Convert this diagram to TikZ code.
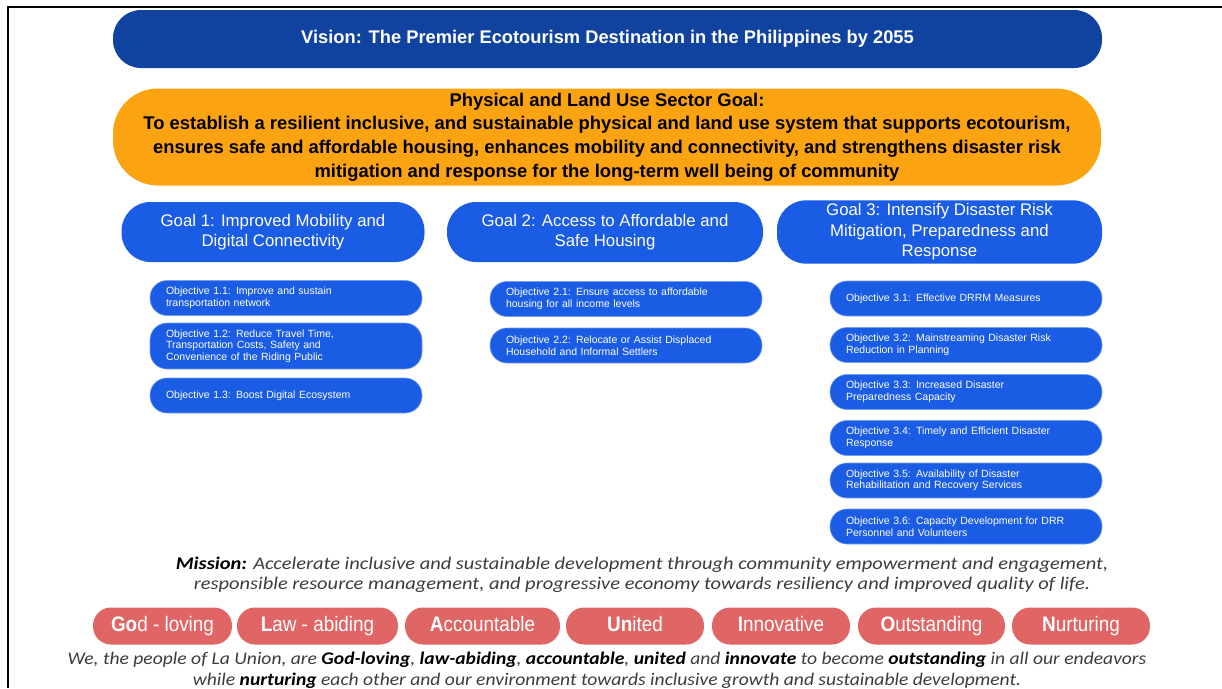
\documentclass[tikz,border=0pt]{standalone}
\usepackage{fontspec}
\setmainfont{Liberation Sans}
\newfontfamily\narrowfont{Liberation Sans}[FakeStretch=0.9]
\newfontfamily\missionfont{Carlito}[FakeStretch=1.15]
\newfontfamily\peoplefont{Carlito}[FakeStretch=1.1]
\usepackage{xcolor}
\definecolor{visionblue}{RGB}{16,66,160}
\definecolor{sectororange}{RGB}{252,163,17}
\definecolor{goalblue}{RGB}{26,92,228}
\definecolor{valuered}{RGB}{224,102,102}
\definecolor{missiongray}{RGB}{60,60,60}

\begin{document}
\begin{tikzpicture}[x=1pt,y=-1pt,
    visionbox/.style={fill=visionblue, text=white, rounded corners=28pt, minimum width=989pt, minimum height=58pt,
        font=\bfseries\fontsize{18.3}{22}\selectfont},
    sectorbox/.style={fill=sectororange, text=black, rounded corners=45pt, minimum width=988pt, minimum height=97pt,
        align=center, font=\bfseries\fontsize{18.4}{23.7}\selectfont},
    goalbox/.style={fill=goalblue, text=white, rounded corners=29pt, minimum height=60pt,
        align=center, font=\fontsize{16.8}{20.5}\selectfont},
    objbox/.style={fill=goalblue, draw=goalblue!60, line width=0.6pt, text=white, rounded corners=17pt, minimum height=35pt,
        text width=240pt, inner xsep=16pt, align=left, font=\fontsize{10.5}{11.5}\selectfont},
    valuepill/.style={fill=valuered, text=white, rounded corners=18pt, minimum height=37pt,
        text height=14pt, text depth=4pt, font=\narrowfont\fontsize{21}{24}\selectfont},
    missiontext/.style={text=missiongray, align=center, font=\missionfont\itshape\fontsize{17.8}{20}\selectfont},
    peopletext/.style={text=missiongray, align=center, font=\peoplefont\itshape\fontsize{17.8}{21}\selectfont}]

    \useasboundingbox (0,0) rectangle (1222,688);

    % frame
    \draw[line width=2.5pt] (7,7) -- (1222,7);
    \draw[line width=2.5pt] (8,6) -- (8,688);

    % vision and sector goal
    \node[visionbox] (vision) at (607.5,39) {Vision: The Premier Ecotourism Destination in the Philippines by 2055};
    \node[sectorbox] (sector) at (607,137) {Physical and Land Use Sector Goal:\\
        To establish a resilient inclusive, and sustainable  physical and land use system that supports ecotourism,\\
        ensures safe and affordable housing, enhances mobility and connectivity, and strengthens disaster risk\\
        mitigation and response for the long-term well being of community};

    % goals
    \node[goalbox, minimum width=303pt] (goal1) at (273,232) {Goal 1: Improved Mobility and\\Digital Connectivity};
    \node[goalbox, minimum width=316pt] (goal2) at (605,232) {Goal 2: Access to Affordable and\\Safe Housing};
    \node[goalbox, minimum width=325pt] (goal3) at (939.5,232) {Goal 3: Intensify Disaster Risk\\Mitigation, Preparedness and\\Response};

    % objectives goal 1
    \node[objbox] (obj11) at (286,298) {Objective 1.1:  Improve and sustain\\transportation network};
    \node[objbox, minimum height=46pt] (obj12) at (286,346) {Objective 1.2:  Reduce Travel Time,\\Transportation Costs, Safety and\\Convenience of the Riding Public};
    \node[objbox] (obj13) at (286,395.5) {Objective 1.3: Boost Digital Ecosystem};

    % objectives goal 2
    \node[objbox] (obj21) at (626,299) {Objective 2.1:  Ensure access to affordable\\housing for all income levels};
    \node[objbox] (obj22) at (626,345.5) {Objective 2.2: Relocate or Assist Displaced\\Household and Informal Settlers};

    % objectives goal 3
    \node[objbox] (obj31) at (966,298.5) {Objective 3.1:  Effective DRRM Measures};
    \node[objbox] (obj32) at (966,345) {Objective 3.2:  Mainstreaming Disaster Risk\\Reduction in Planning};
    \node[objbox] (obj33) at (966,392) {Objective 3.3:  Increased Disaster\\Preparedness Capacity};
    \node[objbox] (obj34) at (966,438) {Objective 3.4:  Timely and Efficient Disaster\\Response};
    \node[objbox] (obj35) at (966,480.5) {Objective 3.5:  Availability of Disaster\\Rehabilitation and Recovery Services};
    \node[objbox] (obj36) at (966,526.5) {Objective 3.6:  Capacity Development for DRR\\Personnel and Volunteers};

    % mission
    \node[missiontext] (mission) at (642,575) {\textcolor{black}{\textbf{Mission:}} Accelerate inclusive and sustainable development through community empowerment and engagement,\\
        responsible resource management, and progressive economy towards resiliency and improved quality of life.};

    % core values
    \node[valuepill, minimum width=139pt] (god) at (162.5,626) {\textbf{Go}d - loving};
    \node[valuepill, minimum width=161pt] (law) at (317.5,626) {\textbf{L}aw - abiding};
    \node[valuepill, minimum width=155pt] (acc) at (482.5,626) {\textbf{A}ccountable};
    \node[valuepill, minimum width=138pt] (uni) at (635,626) {\textbf{Un}ited};
    \node[valuepill, minimum width=138pt] (inn) at (781,626) {\textbf{I}nnovative};
    \node[valuepill, minimum width=147pt] (out) at (931.5,626) {\textbf{O}utstanding};
    \node[valuepill, minimum width=138pt] (nur) at (1081,626) {\textbf{N}urturing};

    \node[peopletext] (people) at (607,670) {We, the people of La Union, are \textcolor{black}{\textbf{God-loving}}, \textcolor{black}{\textbf{law-abiding}}, \textcolor{black}{\textbf{accountable}}, \textcolor{black}{\textbf{united}} and \textcolor{black}{\textbf{innovate}}  to become \textcolor{black}{\textbf{outstanding}} in all our endeavors\\
        while \textcolor{black}{\textbf{nurturing}} each other and our environment towards inclusive growth and sustainable development.};

\end{tikzpicture}
\end{document}
